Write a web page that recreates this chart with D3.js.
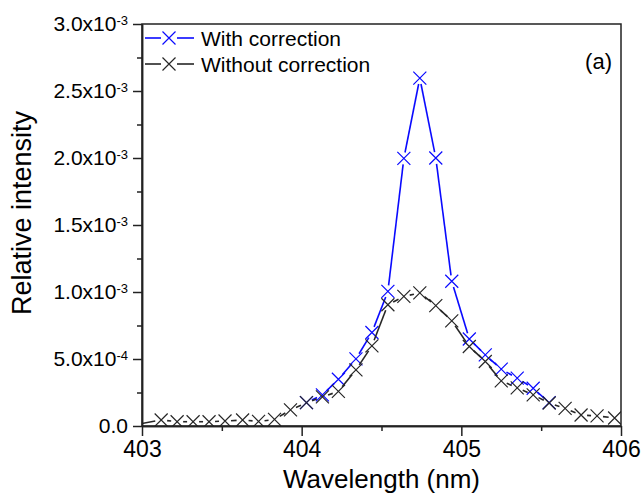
<!DOCTYPE html>
<html>
<head>
<meta charset="utf-8">
<script src="https://cdn.jsdelivr.net/npm/d3@7"></script>
<style>
  body { margin: 0; background: #fff; }
  text { font-family: Arial, 'Liberation Sans', sans-serif; fill: #000; }
</style>
</head>
<body>
<script>
// WAVELENGTH (nm) AND RELATIVE INTENSITY
var withoutWl = [402.96, 403.12, 403.22, 403.32, 403.42, 403.52, 403.63, 403.73, 403.83, 403.93,
  404.03, 404.13, 404.23, 404.34, 404.44, 404.54, 404.64, 404.74, 404.84, 404.94,
  405.05, 405.15, 405.25, 405.35, 405.45, 405.55, 405.65, 405.75, 405.85, 405.96]
var withoutVal = [0.010e-3, 0.045e-3, 0.032e-3, 0.032e-3, 0.032e-3, 0.037e-3, 0.045e-3, 0.034e-3, 0.049e-3, 0.120e-3,
  0.174e-3, 0.217e-3, 0.258e-3, 0.419e-3, 0.598e-3, 0.905e-3, 0.967e-3, 0.993e-3, 0.898e-3, 0.785e-3,
  0.593e-3, 0.481e-3, 0.337e-3, 0.284e-3, 0.232e-3, 0.172e-3, 0.131e-3, 0.082e-3, 0.075e-3, 0.060e-3]

var withWl = [404.03, 404.13, 404.23, 404.34, 404.44, 404.54, 404.64, 404.74, 404.84, 404.94,
  405.05, 405.15, 405.25, 405.35, 405.45, 405.55]
var withVal = [0.174e-3, 0.232e-3, 0.349e-3, 0.501e-3, 0.698e-3, 1.005e-3, 1.997e-3, 2.596e-3, 2.000e-3, 1.080e-3,
  0.649e-3, 0.531e-3, 0.424e-3, 0.357e-3, 0.282e-3, 0.174e-3]

var seriesNames = ['With correction', 'Without correction']
var xTicks = [403, 404, 405, 406]
var yTicks = [0, 0.5e-3, 1.0e-3, 1.5e-3, 2.0e-3, 2.5e-3, 3.0e-3]

var w = 644
var h = 496

var margin = {
  top: 24,
  right: 23,
  bottom: 70,
  left: 142
}

var svg = d3.select('body')
            .append('svg')
            .attr('width', w)
            .attr('height', h)

var x = d3.scaleLinear()
        .domain([403, 406])
        .range([margin.left, w - margin.right])

var y = d3.scaleLinear()
        .domain([0, 3e-3])
        .range([h - margin.bottom, margin.top])

var series = [
  { name: seriesNames[0], wl: withWl, val: withVal, color: '#0a0aff' },
  { name: seriesNames[1], wl: withoutWl, val: withoutVal, color: '#262626' }
]

svg.append('clipPath')
  .attr('id', 'plot-clip')
  .append('rect')
  .attr('x', margin.left)
  .attr('y', margin.top)
  .attr('width', w - margin.left - margin.right)
  .attr('height', h - margin.top - margin.bottom)

var plot = svg.append('g').attr('clip-path', 'url(#plot-clip)')

var GAP = 6 // origin style: line stops short of each symbol
var cross = 'M-6.5,-6.5L6.5,6.5M-6.5,6.5L6.5,-6.5'

function drawSeries (s) {
  var pts = s.wl.map(function (d, i) {
    return [x(d), y(s.val[i])]
  })
  var g = plot.append('g')
  for (var i = 0; i < pts.length - 1; i++) {
    var a = pts[i]
    var b = pts[i + 1]
    var dx = b[0] - a[0]
    var dy = b[1] - a[1]
    var len = Math.sqrt(dx * dx + dy * dy)
    if (len <= 2 * GAP) continue
    var ux = dx / len
    var uy = dy / len
    g.append('line')
      .attr('x1', a[0] + ux * GAP)
      .attr('y1', a[1] + uy * GAP)
      .attr('x2', b[0] - ux * GAP)
      .attr('y2', b[1] - uy * GAP)
      .attr('stroke', s.color)
      .attr('stroke-width', 1.6)
  }
  g.selectAll('.mark')
    .data(pts)
    .enter()
      .append('path')
      .attr('d', cross)
      .attr('transform', function (d) { return 'translate(' + d[0] + ',' + d[1] + ')' })
      .attr('fill', 'none')
      .attr('stroke', s.color)
      .attr('stroke-width', 1.2)
}

drawSeries(series[0])
drawSeries(series[1])

// FRAME
svg.append('rect')
  .attr('x', margin.left)
  .attr('y', margin.top)
  .attr('width', w - margin.left - margin.right)
  .attr('height', h - margin.top - margin.bottom)
  .attr('fill', 'none')
  .attr('stroke', '#222')
  .attr('stroke-width', 1.5)

// X AXIS
var xAxis = svg.append('g')
  .attr('transform', 'translate(0,' + (h - margin.bottom) + ')')
  .call(d3.axisBottom(x).tickValues(xTicks).tickSize(10).tickSizeOuter(0).tickPadding(5).tickFormat(d3.format('d')))
svg.append('g')
  .attr('transform', 'translate(0,' + (h - margin.bottom) + ')')
  .call(d3.axisBottom(x).tickValues([403.5, 404.5, 405.5]).tickSize(5).tickSizeOuter(0).tickFormat(''))

// Y AXIS
var yAxis = svg.append('g')
  .attr('transform', 'translate(' + margin.left + ',0)')
  .call(d3.axisLeft(y).tickValues(yTicks).tickSize(9).tickSizeOuter(0).tickPadding(5).tickFormat(''))
svg.append('g')
  .attr('transform', 'translate(' + margin.left + ',0)')
  .call(d3.axisLeft(y).tickValues([0.25e-3, 0.75e-3, 1.25e-3, 1.75e-3, 2.25e-3, 2.75e-3]).tickSize(5).tickSizeOuter(0).tickFormat(''))

svg.selectAll('.domain, .tick line')
  .attr('stroke', '#222')
  .attr('stroke-width', 1.5)

xAxis.selectAll('text').style('font-size', '23px')

yAxis.selectAll('.tick text')
  .style('font-size', '21px')
  .each(function (d) {
    var t = d3.select(this)
    if (d === 0) {
      t.text('0.0')
      return
    }
    var e = Math.floor(Math.log10(d) + 1e-9)
    var m = d / Math.pow(10, e)
    t.append('tspan').text(m.toFixed(1) + 'x10')
    t.append('tspan').attr('dy', '-0.5em').style('font-size', '13px').text(e)
  })

// AXIS TITLES
svg.append('text')
  .attr('x', (margin.left + w - margin.right) / 2)
  .attr('y', 488)
  .attr('text-anchor', 'middle')
  .style('font-size', '26px')
  .text('Wavelength (nm)')

svg.append('text')
  .attr('transform', 'translate(31,' + 213 + ') rotate(-90)')
  .attr('text-anchor', 'middle')
  .style('font-size', '27px')
  .text('Relative intensity')

svg.append('text')
  .attr('x', 612)
  .attr('y', 69)
  .attr('text-anchor', 'end')
  .style('font-size', '22px')
  .text('(a)')

// LEGEND
var legend = svg.append('g')
series.forEach(function (s, i) {
  var ly = 38 + i * 26
  legend.append('line')
    .attr('x1', 145).attr('x2', 161).attr('y1', ly).attr('y2', ly)
    .attr('stroke', s.color).attr('stroke-width', 1.6)
  legend.append('line')
    .attr('x1', 177).attr('x2', 194).attr('y1', ly).attr('y2', ly)
    .attr('stroke', s.color).attr('stroke-width', 1.6)
  legend.append('path')
    .attr('d', cross)
    .attr('transform', 'translate(169,' + ly + ')')
    .attr('fill', 'none')
    .attr('stroke', s.color)
    .attr('stroke-width', 1.2)
  legend.append('text')
    .attr('x', 201)
    .attr('y', ly + 7.5)
    .style('font-size', '21px')
    .text(s.name)
})
</script>
</body>
</html>
